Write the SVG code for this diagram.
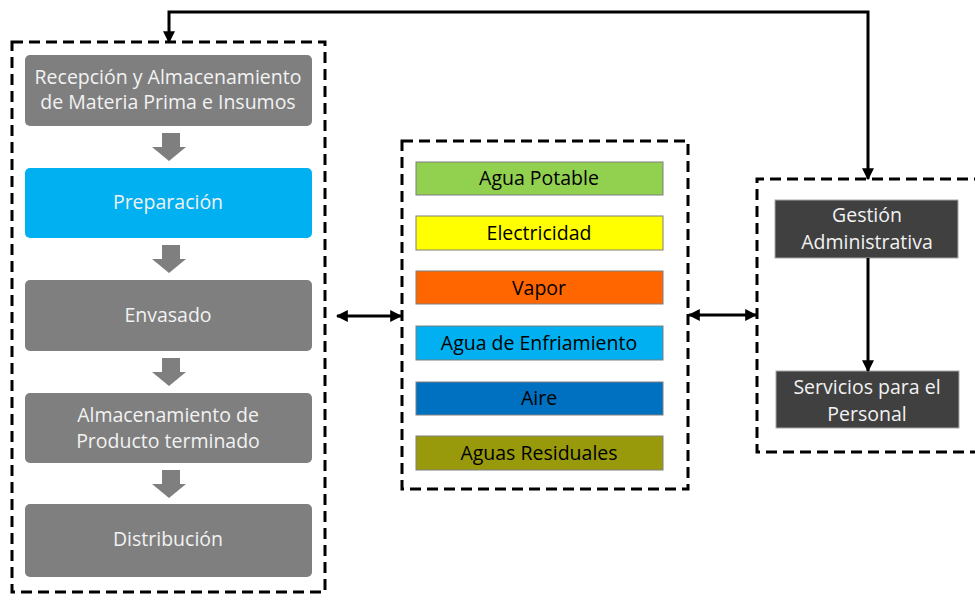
<svg xmlns="http://www.w3.org/2000/svg" width="975" height="595" viewBox="0 0 975 595">
<defs>
<marker id="ah" viewBox="0 0 10 10" refX="9" refY="5" markerWidth="4" markerHeight="4" orient="auto-start-reverse" markerUnits="strokeWidth">
<path d="M0,0 L10,5 L0,10 z" fill="#000"/>
</marker>
<style>
.dash{fill:none;stroke:#000;stroke-width:3;stroke-dasharray:11 6}
.gbox{fill:#7f7f7f}
.wt{fill:#f2f2f2;font-family:"Open Sans",sans-serif;font-size:19.5px;text-anchor:middle}
.bt{fill:#000;font-family:"Open Sans",sans-serif;font-size:19.5px;text-anchor:middle}
.bar{stroke:#7f7f7f;stroke-width:1}
.dbox{fill:#404040;stroke:#a6a6a6;stroke-width:1}
.conn{fill:none;stroke:#000;stroke-width:3}
.blk{fill:#7f7f7f}
</style>
</defs>
<rect width="975" height="595" fill="#fff"/>
<g id="frames">
<rect class="dash" x="12" y="42" width="313" height="550"/>
<rect class="dash" x="402" y="141" width="286" height="348"/>
<path class="dash" d="M985,179 H757 V452 H985"/>
</g>
<g id="n1"><rect class="gbox" x="25" y="55" width="287" height="71" rx="5"/><text class="wt" x="168" y="84">Recepción y Almacenamiento</text><text class="wt" x="168" y="109">de Materia Prima e Insumos</text></g>
<g id="n2"><rect x="25" y="168" width="287" height="70" rx="5" fill="#00b0f0"/><text class="wt" x="168" y="209">Preparación</text></g>
<g id="n3"><rect class="gbox" x="25" y="280" width="287" height="71" rx="5"/><text class="wt" x="168" y="322">Envasado</text></g>
<g id="n4"><rect class="gbox" x="25" y="393" width="287" height="70" rx="5"/><text class="wt" x="168" y="422">Almacenamiento de</text><text class="wt" x="168" y="448">Producto terminado</text></g>
<g id="n5"><rect class="gbox" x="25" y="504" width="287" height="73" rx="5"/><text class="wt" x="168" y="546">Distribución</text></g>
<g id="u1"><rect class="bar" x="416" y="162" width="247" height="33" fill="#92d050"/><text class="bt" x="539" y="185">Agua Potable</text></g>
<g id="u2"><rect class="bar" x="416" y="216" width="247" height="34" fill="#ffff00"/><text class="bt" x="539" y="240">Electricidad</text></g>
<g id="u3"><rect class="bar" x="416" y="271" width="247" height="33" fill="#ff6600"/><text class="bt" x="539" y="295">Vapor</text></g>
<g id="u4"><rect class="bar" x="416" y="326" width="247" height="34" fill="#00b0f0"/><text class="bt" x="539" y="350">Agua de Enfriamiento</text></g>
<g id="u5"><rect class="bar" x="416" y="382" width="247" height="33" fill="#0070c0"/><text class="bt" x="539" y="405">Aire</text></g>
<g id="u6"><rect class="bar" x="416" y="436" width="247" height="34" fill="#989a0c"/><text class="bt" x="539" y="460">Aguas Residuales</text></g>
<g id="g1"><rect class="dbox" x="775" y="200" width="183" height="58"/><text class="wt" x="867" y="222">Gestión</text><text class="wt" x="867" y="249">Administrativa</text></g>
<g id="g2"><rect class="dbox" x="776" y="371" width="183" height="57"/><text class="wt" x="867" y="394">Servicios para el</text><text class="wt" x="867" y="421">Personal</text></g>
<g id="connectors">
<path class="blk" d="M162,133 H180 V147 H186 L169,161 L152,147 H162 Z"/>
<path class="blk" d="M162,245 H180 V259 H186 L169,273 L152,259 H162 Z"/>
<path class="blk" d="M162,358 H180 V372 H186 L169,386 L152,372 H162 Z"/>
<path class="blk" d="M162,470 H180 V484 H186 L169,498 L152,484 H162 Z"/>
<path class="conn" d="M868,179 V12 H169 V42" marker-start="url(#ah)" marker-end="url(#ah)"/>
<path class="conn" d="M868,258 V371" marker-end="url(#ah)"/>
<path class="conn" d="M337,316 H401" marker-start="url(#ah)" marker-end="url(#ah)"/>
<path class="conn" d="M689,315 H756" marker-start="url(#ah)" marker-end="url(#ah)"/>
</g>
</svg>
